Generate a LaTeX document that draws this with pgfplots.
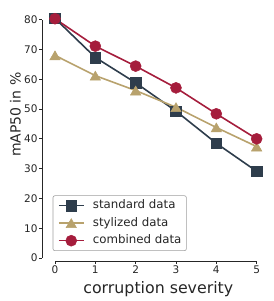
\documentclass[border=0pt]{standalone}
\usepackage{pgfplots}
\pgfplotsset{compat=1.18}
\usepackage{fontspec}
\setmainfont{DejaVu Sans}
\definecolor{cslate}{HTML}{2E3D4C}
\definecolor{ctan}{HTML}{B8A26D}
\definecolor{cred}{HTML}{A51D3C}
\definecolor{ctext}{HTML}{262626}
\begin{document}
\begin{tikzpicture}
\path[use as bounding box] (0,0) rectangle (274pt,301pt);
\begin{axis}[
  at={(42.3pt,40pt)}, anchor=south west,
  scale only axis, width=220.4pt, height=245.85pt,
  xmin=-0.315, xmax=5.15, ymin=-1, ymax=81.5,
  clip=false,
  axis line style={draw=none},
  tick align=outside, major tick length=3pt,
  tick style={color=ctext, line width=0.8pt},
  xtick={0,1,2,3,4,5}, ytick={0,10,20,30,40,50,60,70,80},
  xtick pos=bottom, ytick pos=left,
  /pgf/number format/assume math mode=true,
  ticklabel style={font=\fontsize{10.5}{12}\selectfont, text=ctext},
  xticklabel style={inner sep=1.5pt},
  yticklabel style={inner sep=1.5pt},
  legend cell align=left,
  legend style={at={(rel axis cs:0.047,0.0407)}, anchor=south west,
    draw=gray!75, rounded corners=2pt, line width=0.6pt,
    font=\fontsize{11.8}{14}\selectfont, text=ctext,
    nodes={inner sep=0pt, text height=8.5pt, text depth=2.5pt},
    inner xsep=5pt, inner ysep=4.5pt, row sep=6.5pt, column sep=8.3pt},
  legend image code/.code={\draw[mark repeat=2,mark phase=2,#1] plot coordinates {(0pt,0pt) (12.5pt,0pt) (25pt,0pt)};},
]
\draw[ctext, line width=0.8pt] (axis cs:-0.315,0) -- (axis cs:-0.315,80);
\draw[ctext, line width=0.8pt] (axis cs:0,-1) -- (axis cs:5,-1);
\addplot[cslate, line width=1.6pt, mark=square*, mark size=5.3pt, mark options={solid, fill=cslate, draw=cslate, line width=0.5pt}]
  coordinates {(0,80.4) (1,67.3) (2,58.8) (3,49.3) (4,38.5) (5,29.1)};
\addlegendentry{standard data}
\addplot[ctan, line width=1.6pt, mark=triangle*, mark size=6pt, mark options={solid, fill=ctan, draw=ctan, line width=0.5pt, yshift=-1.5pt}]
  coordinates {(0,68.0) (1,61.2) (2,56.2) (3,50.6) (4,43.8) (5,37.4)};
\addlegendentry{stylized data}
\addplot[cred, line width=1.6pt, mark=*, mark size=5.5pt, mark options={solid, fill=cred, draw=cred, line width=0.5pt}]
  coordinates {(0,80.3) (1,71.1) (2,64.4) (3,57.1) (4,48.4) (5,40.0)};
\addlegendentry{combined data}
\end{axis}
\node[rotate=90, anchor=base, text=ctext, font=\fontsize{14}{16}\selectfont] at (20.7pt,186.3pt) {mAP50 in \%};
\node[anchor=base, text=ctext, font=\fontsize{15.8}{18}\selectfont] at (158.3pt,7pt) {corruption severity};
\end{tikzpicture}
\end{document}
